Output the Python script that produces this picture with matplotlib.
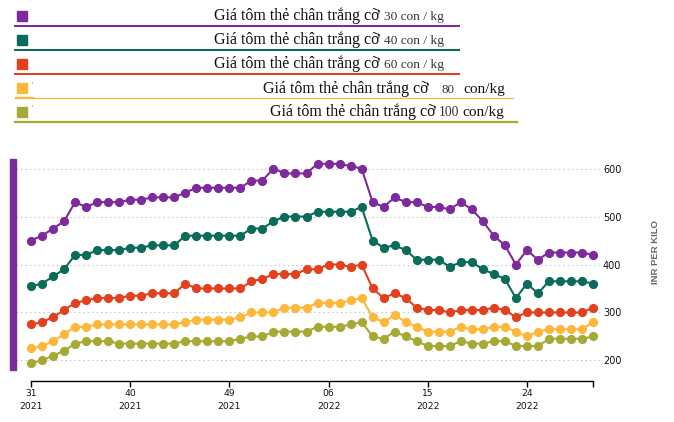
import numpy as np
import matplotlib
matplotlib.use("Agg")
import matplotlib.pyplot as plt
from matplotlib.lines import Line2D
from matplotlib.patches import Rectangle

# week labels (week number / year) shown on the x axis
tick_weeks = ["31\n2021", "40\n2021", "49\n2021", "06\n2022", "15\n2022", "24\n2022"]
n_weeks = 52  # week 31/2021 .. week 30/2022

# prices, INR per kilo, one value per week
size_30 = [450, 460, 475, 490, 530, 520, 530, 530, 530, 535, 535, 540, 540, 540,
           550, 560, 560, 560, 560, 560, 575, 575, 600, 590, 590, 590, 610, 610,
           610, 605, 600, 530, 520, 540, 530, 530, 520, 520, 515, 530, 515, 490,
           460, 440, 400, 430, 410, 425, 425, 425, 425, 420]
size_40 = [355, 360, 375, 390, 420, 420, 430, 430, 430, 435, 435, 440, 440, 440,
           460, 460, 460, 460, 460, 460, 475, 475, 490, 500, 500, 500, 510, 510,
           510, 510, 520, 450, 435, 440, 430, 410, 410, 410, 395, 405, 405, 390,
           380, 370, 330, 360, 340, 365, 365, 365, 365, 360]
size_60 = [275, 280, 290, 305, 320, 325, 330, 330, 330, 335, 335, 340, 340, 340,
           360, 350, 350, 350, 350, 350, 365, 370, 380, 380, 380, 390, 390, 400,
           400, 395, 400, 350, 330, 340, 330, 310, 305, 305, 300, 305, 305, 305,
           310, 305, 290, 300, 300, 300, 300, 300, 300, 310]
size_80 = [225, 230, 240, 255, 270, 270, 275, 275, 275, 275, 275, 275, 275, 275,
           280, 285, 285, 285, 285, 290, 300, 300, 300, 310, 310, 310, 320, 320,
           320, 325, 330, 290, 280, 295, 280, 270, 260, 260, 260, 270, 265, 265,
           270, 270, 260, 250, 260, 265, 265, 265, 265, 280]
size_100 = [195, 200, 210, 220, 235, 240, 240, 240, 235, 235, 235, 235, 235, 235,
            240, 240, 240, 240, 240, 245, 250, 250, 260, 260, 260, 260, 270, 270,
            270, 275, 280, 250, 245, 260, 250, 240, 230, 230, 230, 240, 235, 235,
            240, 240, 230, 230, 230, 245, 245, 245, 245, 250]

series = [size_30, size_40, size_60, size_80, size_100]
colors = ["#7d2a9c", "#0b6b5b", "#e2401f", "#fdb83b", "#a7a935"]
sizes = ["30 con / kg", "40 con / kg", "60 con / kg", "80", "100"]
label_main = "Giá tôm thẻ chân trắng cỡ"

W, H = 674, 422
fig = plt.figure(figsize=(W / 100, H / 100), dpi=100)


def fx(px):
    return px / W


def fy(py):
    return 1 - py / H


# ---- main chart ----
ax = fig.add_axes([fx(16), fy(380.7), fx(603 - 16), (380.7 - 159) / H])
x = np.arange(n_weeks)
for vals, c in zip(series, colors):
    ax.plot(x, vals, color=c, lw=1.5, marker="o", ms=5.6, mec=c, zorder=3)

ax.set_xlim(-15 / 11.02, (603 - 31) / 11.02)
ax.set_ylim(157.7, 620)

for s in ["top", "left", "right"]:
    ax.spines[s].set_visible(False)
ax.spines["bottom"].set_bounds(0, n_weeks - 1)
ax.spines["bottom"].set_linewidth(1.0)

ax.set_xticks([0, 9, 18, 27, 36, 45, 51])
ax.set_xticklabels(tick_weeks + [""], fontsize=6.6, color="#111",
                   family="DejaVu Sans", linespacing=1.45)
ax.tick_params(axis="x", length=4.3, width=1.0, pad=2)

ax.yaxis.tick_right()
ax.set_yticks([200, 300, 400, 500, 600])
ax.tick_params(axis="y", length=0, pad=0, labelsize=7, labelcolor="#111")
ax.grid(axis="y", ls=(0, (1.5, 2.5)), color="#cccccc", lw=0.8, zorder=0)

fig.text(fx(655), fy(252), "INR PER KILO", rotation=90, ha="center",
         va="center", fontsize=6.8, fontweight="bold", color="#666666",
         family="Liberation Sans")

# purple bar on the left
fig.add_artist(Rectangle((fx(10), fy(370)), fx(5.7), (370 - 159) / H,
                         transform=fig.transFigure, color="#7d2a9c"))

# ---- legend block at top ----
sq_top = [11, 35, 59, 83, 107]
line_y = [25.5, 50, 73.7, 98.3, 122]
line_end = [459, 459, 459, 513, 517]
line_w = [2.0, 2.0, 2.0, 1.2, 2.3]
base_y = [20, 44, 68, 93, 116]
main_x = [214, 214, 214, 263, 270]

for i, c in enumerate(colors):
    fig.add_artist(Rectangle((fx(16.7), fy(sq_top[i] + 9.7)), fx(10), 9.7 / H,
                             transform=fig.transFigure, color=c))
    fig.add_artist(Line2D([fx(15), fx(line_end[i])], [fy(line_y[i])] * 2,
                          transform=fig.transFigure, color=c,
                          lw=line_w[i] * 0.72))
    fig.text(fx(main_x[i]), fy(base_y[i]), label_main, fontsize=11.5,
             family="Liberation Serif", color="#111", va="baseline")

for i in range(3):
    fig.text(fx(384), fy(base_y[i]), sizes[i], fontsize=9.6,
             family="Liberation Serif", color="#333", va="baseline")
fig.text(fx(441), fy(base_y[3]), sizes[3], fontsize=9.4,
         family="Liberation Serif", color="#333", va="baseline")
fig.text(fx(463), fy(base_y[3]), "con/kg", fontsize=11,
         family="Liberation Serif", color="#111", va="baseline")
fig.text(fx(439), fy(base_y[4]), sizes[4], fontsize=9.8,
         family="Liberation Serif", color="#333", va="baseline")
fig.text(fx(462), fy(base_y[4]), "con/kg", fontsize=11,
         family="Liberation Serif", color="#111", va="baseline")
# small stray marks next to the 80 and 100 squares
for yy in [86, 109]:
    fig.text(fx(32), fy(yy), "'", fontsize=6, family="Liberation Serif",
             color="#888", va="center")
# short extra yellow stroke under the square
fig.add_artist(Line2D([fx(15), fx(33)], [fy(97)] * 2, transform=fig.transFigure,
                      color=colors[3], lw=1.0))

fig.savefig("out.png", dpi=100)
